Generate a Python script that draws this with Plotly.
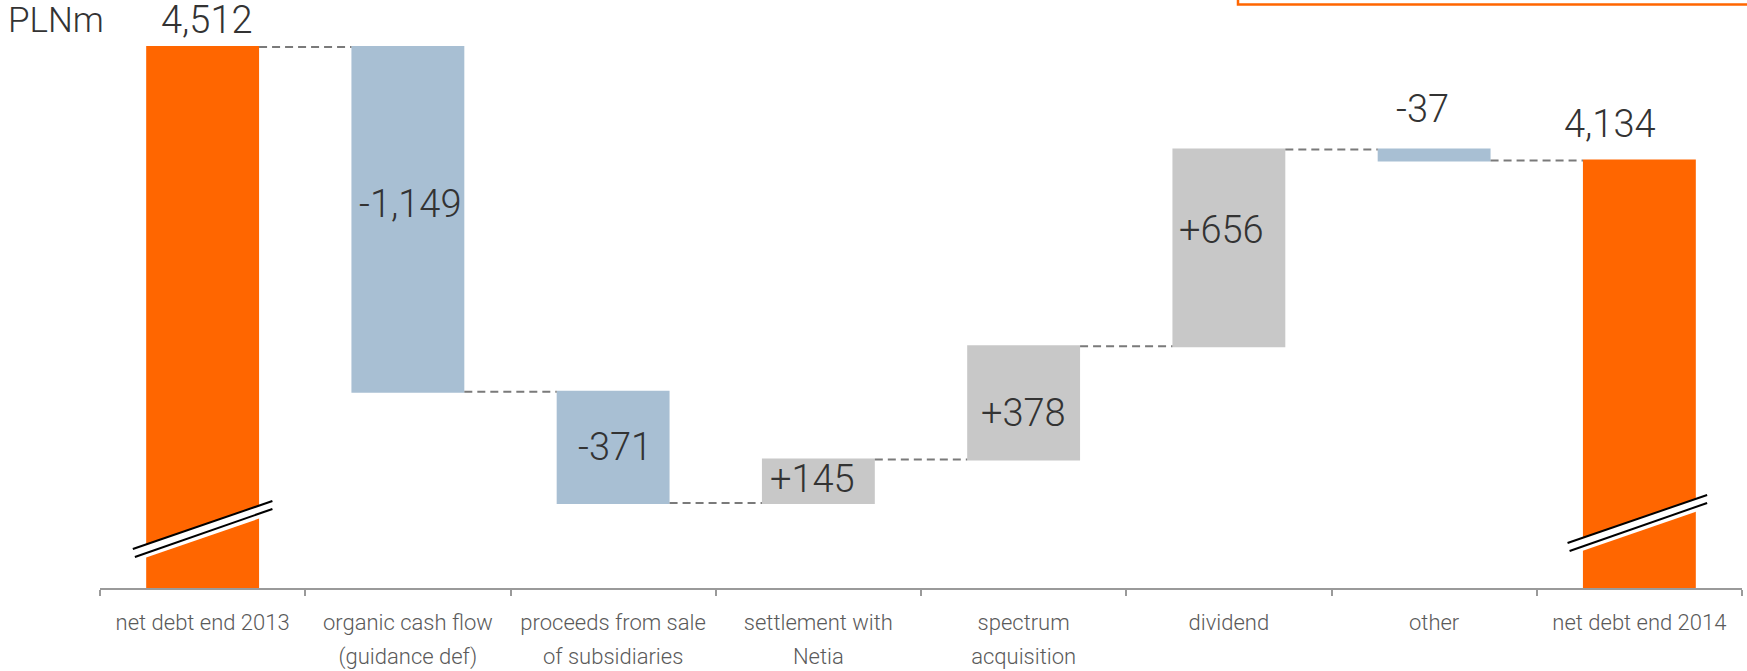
import plotly.graph_objects as go

# ---- data ----
categories = ["net debt end 2013", "organic cash flow<br>(guidance def)",
              "proceeds from sale<br>of subsidiaries", "settlement with<br>Netia",
              "spectrum<br>acquisition", "dividend", "other", "net debt end 2014"]
values = [4512, -1149, -371, 145, 378, 656, -37, 4134]
measures = ["absolute", "relative", "relative", "relative", "relative", "relative", "relative", "total"]
value_labels = ["4,512", "-1,149", "-371", "+145", "+378", "+656", "-37", "4,134"]
unit_label = "PLNm"

# ---- style ----
ORANGE = "#FF6600"
BLUE = "#A8BFD3"
GRAY = "#C8C8C8"
FONT = "Roboto"
Y_MIN, Y_MAX = 2709, 4669
PLOT_H = 588
px_per_unit = PLOT_H / (Y_MAX - Y_MIN)
label_outside = [True, False, False, False, False, False, True, True]
label_dy = [27, 15, 0, 2, -10, 18, 40, 37]      # vertical pixel shifts of value labels
label_dx = [4, 3, 2, -6, 0, -7, -12, -29]       # horizontal pixel shifts of value labels


def tick_text(s):
    return "<br>".join(f"<span style='font-size:22px'>{part}</span>" for part in s.split("<br>"))


fig = go.Figure()
fig.add_trace(go.Waterfall(
    x=categories, y=values, measure=measures, width=0.55,
    connector=dict(mode="between", line=dict(color="#7a7a7a", width=2, dash="8px,5px")),
    decreasing=dict(marker=dict(color=BLUE, line=dict(width=0))),
    increasing=dict(marker=dict(color=GRAY, line=dict(width=0))),
    totals=dict(marker=dict(color=ORANGE, line=dict(width=0))),
    hoverinfo="skip", showlegend=False,
))

# compute bar extents from the data
extents = []
running = 0
for v, m in zip(values, measures):
    if m == "absolute":
        extents.append((0, v)); running = v
    elif m == "total":
        extents.append((0, running))
    else:
        extents.append((running, running + v)); running += v

annotations = []
for i, (lab, (a, b)) in enumerate(zip(value_labels, extents)):
    y = max(a, b) if label_outside[i] else (a + b) / 2
    annotations.append(dict(x=i, y=y, xref="x", yref="y", text=lab, showarrow=False,
                            xanchor="center", yanchor="middle",
                            xshift=label_dx[i], yshift=label_dy[i],
                            font=dict(family=FONT, size=38, color="#333333", weight=300)))

annotations.append(dict(x=(6 - 100) / 1642, y=(PLOT_H - 21) / PLOT_H, xref="paper", yref="paper",
                        text=unit_label, showarrow=False, xanchor="left", yanchor="middle",
                        font=dict(family=FONT, size=35, color="#333333", weight=300)))

shapes = []
# axis break marks on the two total bars: (category, x left, x right, px above axis at left, at right)
breaks = [(0, -0.34, 0.34, 39, 87), (7, -0.35, 0.33, 45, 93)]
for c, xl, xr, yl_px, yr_px in breaks:
    x0, x1 = c + xl, c + xr
    y0 = Y_MIN + yl_px / px_per_unit
    y1 = Y_MIN + yr_px / px_per_unit
    band = 13 / px_per_unit
    gap = 8 / px_per_unit
    bx0, bx1 = c - 0.3, c + 0.3
    slope = (y1 - y0) / (x1 - x0)
    ya = y0 + slope * (bx0 - x0)
    yb = y0 + slope * (bx1 - x0)
    shapes.append(dict(type="path", xref="x", yref="y",
                       path=f"M {bx0},{ya} L {bx1},{yb} L {bx1},{yb - band} L {bx0},{ya - band} Z",
                       fillcolor="white", line=dict(width=0), layer="above"))
    shapes.append(dict(type="line", xref="x", yref="y", x0=x0, y0=y0, x1=x1, y1=y1,
                       line=dict(color="black", width=2), layer="above"))
    shapes.append(dict(type="line", xref="x", yref="y", x0=x0 + 0.01, y0=y0 - gap, x1=x1, y1=y1 - gap,
                       line=dict(color="black", width=2), layer="above"))

# orange frame at top right
shapes.append(dict(type="rect", xref="paper", yref="paper",
                   x0=(1238 - 100) / 1642, x1=1.05, y0=(PLOT_H - 4.5) / PLOT_H, y1=1.2,
                   line=dict(color=ORANGE, width=2.5), fillcolor="rgba(0,0,0,0)"))

fig.update_layout(
    width=1747, height=671,
    margin=dict(l=100, r=5, t=0, b=671 - PLOT_H),
    plot_bgcolor="white", paper_bgcolor="white",
    annotations=annotations, shapes=shapes,
    xaxis=dict(type="category", tickson="boundaries", ticks="outside", ticklen=6,
               tickcolor="#9a9a9a", tickwidth=1.5, showline=True, linecolor="#9a9a9a",
               linewidth=1.5, showgrid=False, ticklabelstandoff=9, automargin=False,
               tickfont=dict(family=FONT, size=26, color="#5a5a5a", weight=300),
               tickmode="array", tickvals=categories,
               ticktext=[tick_text(c) for c in categories],
               range=[-0.5, 7.5]),
    yaxis=dict(visible=False, range=[Y_MIN, Y_MAX], showgrid=False, zeroline=False),
)

fig.write_html("out.html", config={"displayModeBar": False},
               post_script="document.body.style.margin='0px';")
